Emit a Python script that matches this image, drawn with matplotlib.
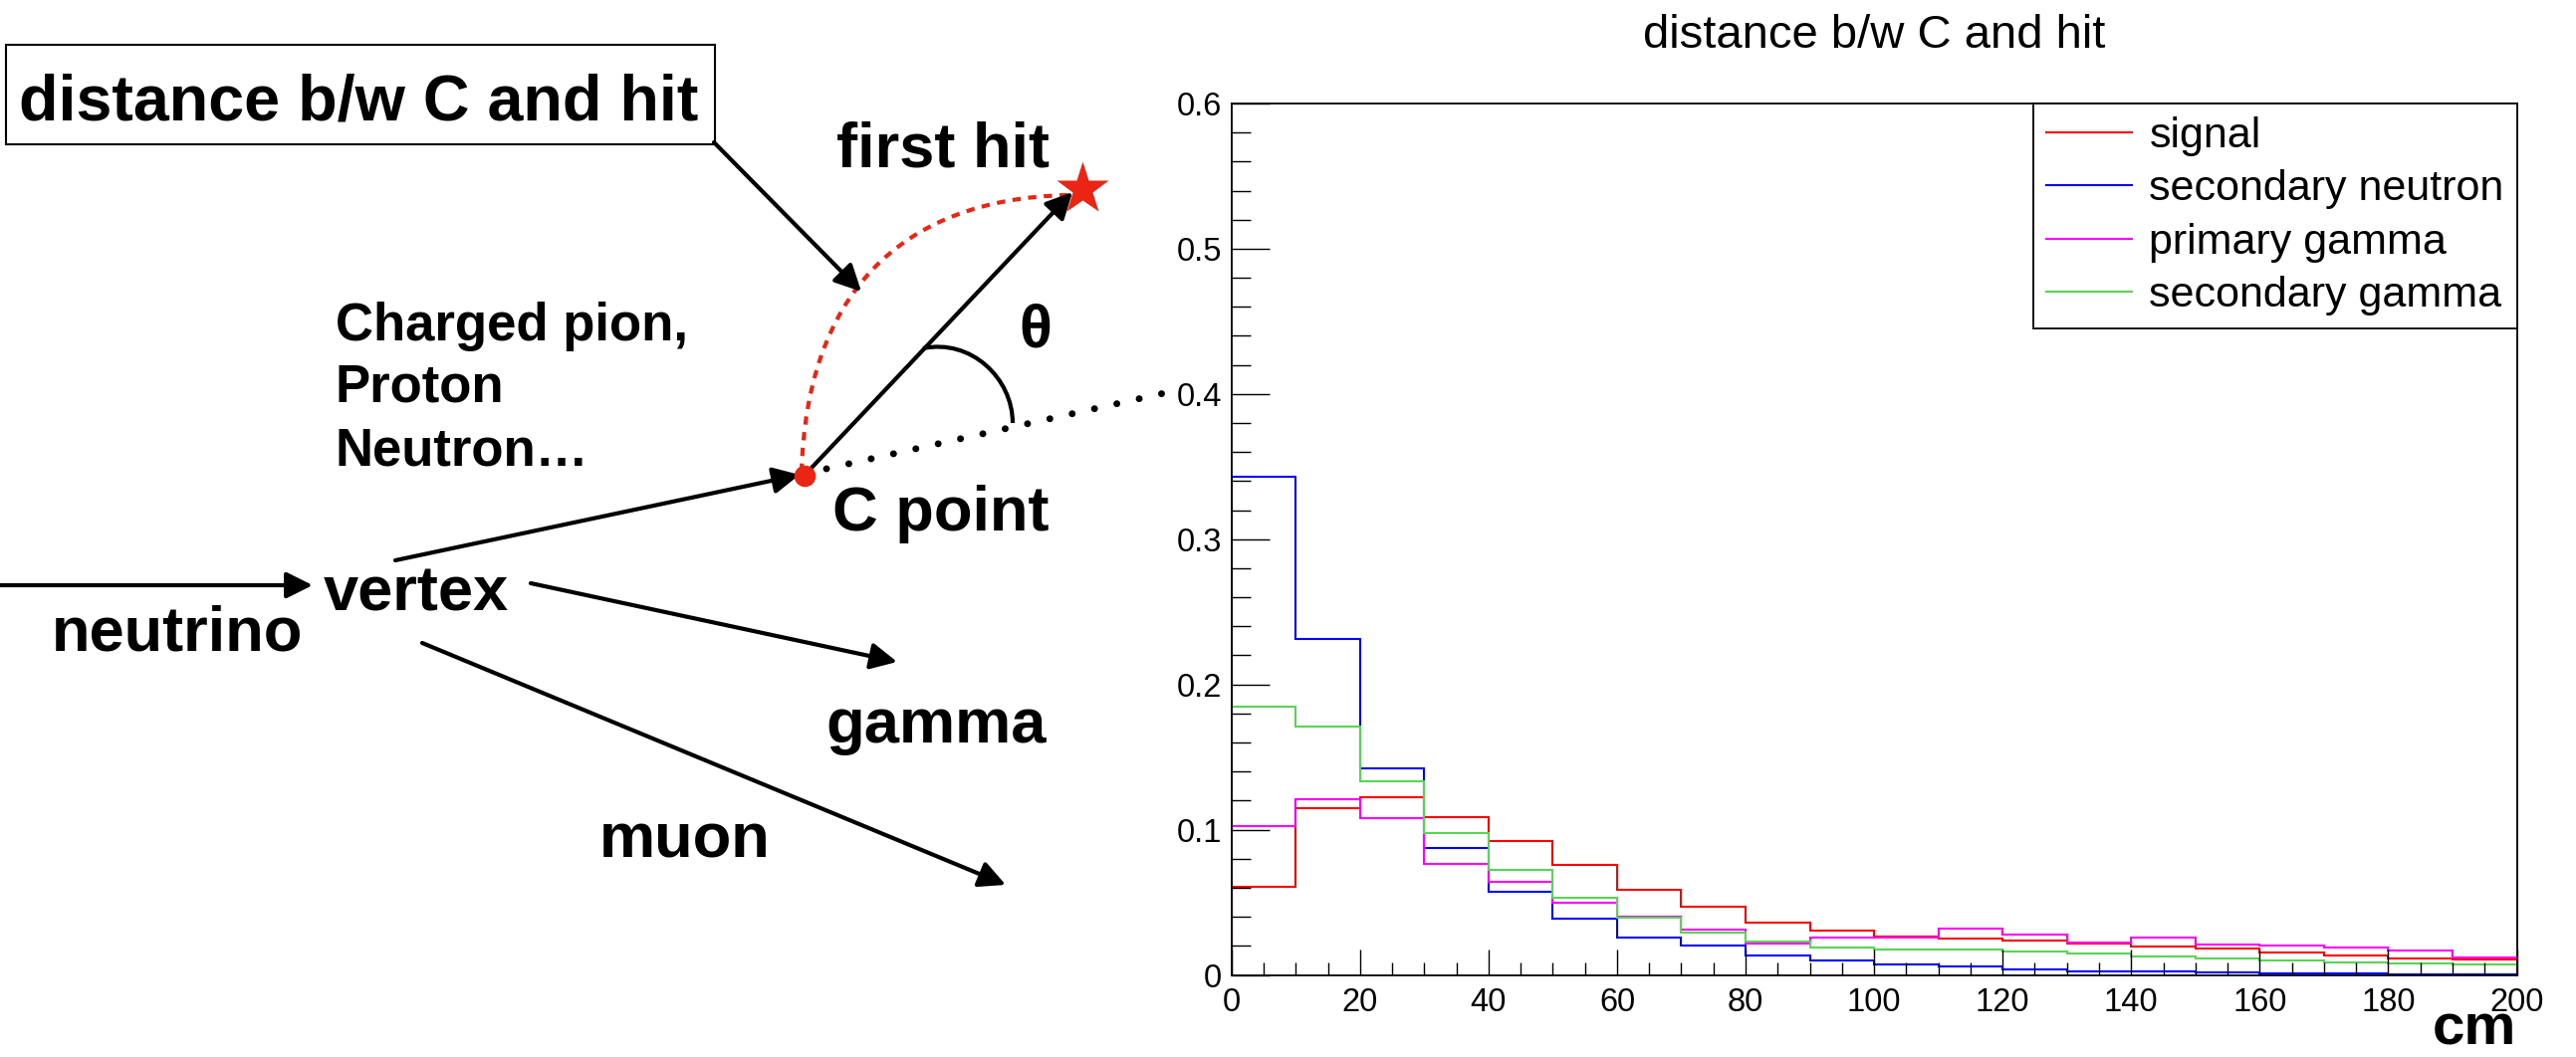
import numpy as np
import matplotlib
matplotlib.use('Agg')
from matplotlib import pyplot as plt
from matplotlib.lines import Line2D
from matplotlib.patches import Rectangle, PathPatch
from matplotlib.path import Path
from matplotlib.ticker import MultipleLocator, FuncFormatter

plt.rcParams['font.family'] = ['Liberation Sans', 'DejaVu Sans']

# histogram data (10 cm bins, normalised) ------------------------------------
bin_edges = list(range(0, 201, 10))
signal = [0.0608, 0.1147, 0.1220, 0.1088, 0.0924, 0.0757, 0.0586, 0.0470, 0.0362, 0.0302,
          0.0266, 0.0247, 0.0234, 0.0213, 0.0197, 0.0179, 0.0153, 0.0137, 0.0114, 0.0105]
sec_neutron = [0.3430, 0.2316, 0.1420, 0.0877, 0.0569, 0.0390, 0.0260, 0.0199, 0.0133, 0.0096,
               0.0071, 0.0060, 0.0039, 0.0025, 0.0025, 0.0018, 0.0011, 0.0009, 0.0005, 0.0002]
prim_gamma = [0.1025, 0.1213, 0.1080, 0.0762, 0.0642, 0.0498, 0.0404, 0.0309, 0.0217, 0.0254,
              0.0254, 0.0318, 0.0277, 0.0222, 0.0256, 0.0210, 0.0201, 0.0188, 0.0169, 0.0121]
sec_gamma = [0.1850, 0.1710, 0.1336, 0.0980, 0.0723, 0.0529, 0.0395, 0.0293, 0.0229, 0.0190,
             0.0172, 0.0172, 0.0158, 0.0147, 0.0128, 0.0112, 0.0101, 0.0089, 0.0080, 0.0071]
series = [signal, sec_neutron, prim_gamma, sec_gamma]
labels = ['signal', 'secondary neutron', 'primary gamma', 'secondary gamma']
colors = ['#ff0000', '#0000ff', '#ff00ff', '#59d454']

W, H = 2587, 1062
fig = plt.figure(figsize=(W / 100, H / 100), dpi=100)

# left sketch, drawn in pixel coordinates ------------------------------------
dax = fig.add_axes([0, 0, 1, 1])
dax.set_xlim(0, W)
dax.set_ylim(H, 0)
dax.axis('off')
red = '#ea2514'

# box label
dax.add_patch(Rectangle((6, 45), 712, 100, fill=False, edgecolor='black', lw=1.5))
dax.text(19, 121, 'distance b/w C and hit', fontsize=46.5, fontweight='bold', va='baseline')

# arrows: (start, tip)
arrows = [((0, 588), (314, 588)),       # neutrino
          ((397, 563), (803, 477)),     # vertex -> C point
          ((533, 586), (901, 665)),     # gamma
          ((424, 646), (1010, 889)),    # muon
          ((815, 470), (1077, 193)),    # C point -> first hit
          ((717, 143), (865, 293))]     # box -> curve
for a, b in arrows:
    dax.annotate('', xy=b, xytext=a,
                 arrowprops=dict(arrowstyle='-|>,head_length=0.8,head_width=0.4',
                                 lw=3, color='black', shrinkA=0, shrinkB=0,
                                 mutation_scale=20), zorder=3)

# red dashed path C point -> first hit
curve = Path([(805, 474), (810, 300), (900, 200), (1072, 196)],
             [Path.MOVETO, Path.CURVE4, Path.CURVE4, Path.CURVE4])
dax.add_patch(PathPatch(curve, fill=False, edgecolor=red, lw=3,
                        linestyle=(0, (2.0, 1.8)), zorder=2))

# theta arc
arc = Path([(927, 350), (975, 340), (1017, 380), (1017, 425)],
           [Path.MOVETO, Path.CURVE4, Path.CURVE4, Path.CURVE4])
dax.add_patch(PathPatch(arc, fill=False, edgecolor='black', lw=3))

# dotted direction line
dax.plot([830, 1187], [471, 391], color='black', lw=5,
         linestyle=(0, (0.01, 3.3)), dash_capstyle='round', solid_capstyle='round')

dax.plot(808, 478, 'o', color=red, ms=14.5, zorder=4)
dax.plot(1087, 190, '*', color=red, ms=40, mec='none', zorder=2)

# sketch labels
bold_labels = [('first hit', 840, 167), ('C point', 836, 533), ('vertex', 325, 613),
               ('neutrino', 52, 654), ('gamma', 829, 746), ('muon', 602, 862)]
for s, x, y in bold_labels:
    dax.text(x, y, s, fontsize=45.5, fontweight='bold', va='baseline')
for s, y in [('Charged pion,', 342), ('Proton', 404), ('Neutron…', 467)]:
    dax.text(337, y, s, fontsize=38, fontweight='bold', va='baseline')
dax.text(1040, 333, 'θ', fontsize=44, fontweight='bold', ha='center', va='center')

# histogram ------------------------------------------------------------------
x0, x1, y0, y1 = 1236.7, 2527.5, 104, 979.5
ax = fig.add_axes([x0 / W, 1 - y1 / H, (x1 - x0) / W, (y1 - y0) / H])
for vals, c in zip(series, colors):
    ax.stairs(vals, bin_edges, color=c, lw=1.5)

ax.set_xlim(0, 200)
ax.set_ylim(0, 0.6)
ax.xaxis.set_major_locator(MultipleLocator(20))
ax.xaxis.set_minor_locator(MultipleLocator(5))
ax.yaxis.set_major_locator(MultipleLocator(0.1))
ax.yaxis.set_minor_locator(MultipleLocator(0.02))
ax.yaxis.set_major_formatter(FuncFormatter(lambda v, p: '0' if abs(v) < 1e-9 else '%.1f' % v))
ax.xaxis.set_major_formatter(FuncFormatter(lambda v, p: '%d' % round(v)))
ax.tick_params(which='both', direction='in', top=False, right=False, width=1.0, labelsize=23.5)
ax.tick_params(axis='y', which='major', length=27.4, pad=7)
ax.tick_params(axis='y', which='minor', length=13.7)
ax.tick_params(axis='x', which='major', length=18.7, pad=9)
ax.tick_params(axis='x', which='minor', length=9.4)
for sp in ax.spines.values():
    sp.set_linewidth(1.3)

ax.set_title('distance b/w C and hit', fontsize=34, pad=40)
ax.set_xlabel('cm', loc='right', fontsize=42, fontweight='bold')
ax.xaxis.label.set_va('baseline')
ax.xaxis.set_label_coords(1.0, -(1050 - y1) / (y1 - y0))

handles = [Line2D([], [], color=c, lw=1.5) for c in colors]
leg = ax.legend(handles, labels, loc='upper right', bbox_to_anchor=(1, 1), borderaxespad=0,
                fontsize=31, frameon=True, fancybox=False, edgecolor='black', framealpha=1,
                handlelength=2.0, handletextpad=0.4, borderpad=0.3, labelspacing=0.31)
leg.get_frame().set_linewidth(1.3)

fig.savefig('out.png', dpi=100)
